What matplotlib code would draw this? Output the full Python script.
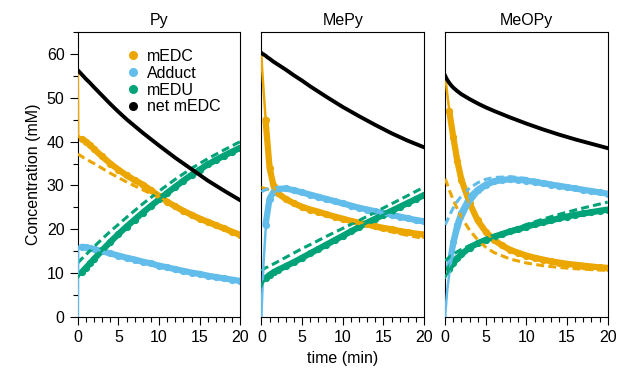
import matplotlib
matplotlib.use("Agg")
import matplotlib.pyplot as plt
from matplotlib.lines import Line2D
from matplotlib.ticker import MultipleLocator

plt.rcParams['font.family'] = ['Liberation Sans', 'DejaVu Sans']
plt.rcParams['font.size'] = 11.5

# time grids (min)
t_fit = [0, 0.05, 0.25, 0.5, 0.75, 1, 1.5, 2, 3, 4, 5, 6, 8, 10, 12, 14, 16, 18, 20]
t_data = [0.5, 1, 1.5, 2, 3, 4, 5, 6, 7, 8, 9, 10, 11, 12, 13, 14, 15, 16, 17, 18, 19, 20]

panels = ["Py", "MePy", "MeOPy"]
species = ["mEDC", "Adduct", "mEDU", "net mEDC"]

# ---- Py ----
py_medc_data = [40.6, 40.0, 39.2, 38.3, 36.6, 35.0, 33.6, 32.3, 31.2, 30.2, 28.9, 27.6, 26.3, 25.2, 24.2, 23.3, 22.4, 21.7, 20.9, 20.2, 19.4, 18.7]
py_add_data = [16.0, 15.9, 15.7, 15.5, 15.0, 14.5, 14.0, 13.5, 13.1, 12.6, 12.2, 11.7, 11.3, 10.9, 10.5, 10.1, 9.8, 9.4, 9.1, 8.8, 8.5, 8.2]
py_medu_data = [10.2, 11.2, 12.2, 13.2, 15.2, 17.1, 18.9, 20.6, 22.2, 23.8, 25.3, 26.8, 28.3, 29.7, 31.1, 32.4, 33.6, 34.8, 35.8, 36.8, 37.7, 38.6]
py_medc_fit = [56.3, 41.5, 40.8, 40.4, 40.0, 39.6, 38.8, 38.0, 36.4, 34.9, 33.5, 32.2, 30.2, 27.5, 25.1, 23.2, 21.6, 20.1, 18.7]
py_add_fit = [0, 16.0, 16.1, 16.1, 16.0, 15.9, 15.7, 15.5, 15.0, 14.5, 14.0, 13.5, 12.6, 11.7, 10.9, 10.1, 9.4, 8.8, 8.2]
py_medu_fit = [9.0, 9.1, 9.6, 10.1, 10.6, 11.1, 12.1, 13.1, 15.1, 17.0, 18.8, 20.5, 23.8, 26.8, 29.7, 32.4, 34.8, 36.8, 38.6]
py_net_fit = [56.3, 56.2, 55.8, 55.3, 54.8, 54.3, 53.4, 52.4, 50.5, 48.6, 46.8, 45.1, 42.0, 39.1, 36.3, 33.7, 31.1, 28.8, 26.6]
py_medc_alt = [37.2, 37.1, 36.9, 36.6, 36.3, 36.1, 35.5, 35.0, 33.9, 32.8, 31.8, 30.8, 29.0, 27.2, 25.3, 23.6, 22.0, 20.5, 19.0]
py_add_alt = [15.8, 15.8, 15.8, 15.7, 15.7, 15.6, 15.4, 15.2, 14.7, 14.2, 13.7, 13.2, 12.3, 11.5, 10.7, 10.0, 9.3, 8.7, 8.1]
py_medu_alt = [12.3, 12.4, 12.8, 13.3, 13.7, 14.2, 15.1, 16.0, 17.8, 19.5, 21.1, 22.7, 25.8, 28.7, 31.4, 33.9, 36.1, 38.1, 40.0]

# ---- MePy ----
mepy_medc_data = [45.0, 34.0, 29.8, 28.2, 26.9, 25.9, 25.1, 24.5, 24.0, 23.4, 22.9, 22.4, 21.9, 21.5, 21.1, 20.7, 20.3, 20.0, 19.6, 19.3, 19.0, 18.8]
mepy_add_data = [21.0, 27.0, 28.6, 29.2, 29.3, 28.9, 28.4, 27.9, 27.4, 26.9, 26.4, 25.9, 25.4, 24.9, 24.5, 24.1, 23.7, 23.3, 22.9, 22.5, 22.1, 21.8]
mepy_medu_data = [8.8, 9.6, 10.2, 10.7, 11.6, 12.5, 13.5, 14.5, 15.5, 16.5, 17.5, 18.5, 19.5, 20.5, 21.5, 22.4, 23.3, 24.2, 25.1, 26.0, 26.9, 27.8]
mepy_medc_fit = [60.0, 57.5, 52.0, 45.5, 39.5, 34.5, 29.5, 28.0, 26.8, 25.8, 25.1, 24.5, 23.4, 22.4, 21.5, 20.7, 20.0, 19.3, 18.8]
mepy_add_fit = [0, 3.0, 12.0, 19.5, 24.0, 26.5, 28.3, 28.9, 29.0, 28.6, 28.1, 27.6, 26.7, 25.7, 24.9, 24.0, 23.2, 22.4, 21.7]
mepy_medu_fit = [7.0, 7.3, 8.0, 8.6, 9.1, 9.5, 10.0, 10.5, 11.5, 12.5, 13.5, 14.5, 16.5, 18.5, 20.5, 22.4, 24.2, 26.0, 27.8]
mepy_net_fit = [60.2, 60.1, 59.9, 59.6, 59.2, 58.9, 58.2, 57.6, 56.4, 55.1, 53.9, 52.6, 50.2, 47.9, 45.8, 43.8, 41.9, 40.2, 38.7]
mepy_medc_alt = [29.5, 29.5, 29.4, 29.3, 29.1, 28.9, 28.5, 28.1, 27.1, 26.2, 25.4, 24.7, 23.5, 22.4, 21.3, 20.3, 19.4, 18.6, 17.9]
mepy_add_alt = [28.5, 28.6, 28.8, 29.0, 29.2, 29.3, 29.4, 29.4, 29.2, 28.8, 28.3, 27.8, 26.8, 25.8, 24.8, 23.9, 23.0, 22.2, 21.4]
mepy_medu_alt = [10.5, 10.6, 10.9, 11.2, 11.4, 11.7, 12.1, 12.6, 13.6, 14.6, 15.6, 16.5, 18.4, 20.2, 22.0, 23.9, 25.8, 27.7, 29.6]

# ---- MeOPy ----
meopy_medc_data = [47.0, 41.0, 35.5, 31.3, 26.0, 22.0, 19.4, 17.6, 16.3, 15.3, 14.6, 14.0, 13.5, 13.1, 12.7, 12.4, 12.1, 11.9, 11.7, 11.5, 11.3, 11.2]
meopy_add_data = [11.5, 17.0, 21.0, 23.7, 27.2, 29.0, 30.2, 30.9, 31.3, 31.4, 31.3, 31.1, 30.8, 30.5, 30.2, 29.9, 29.6, 29.3, 29.0, 28.7, 28.4, 28.1]
meopy_medu_data = [11.0, 12.3, 13.4, 14.3, 15.8, 16.8, 17.6, 18.3, 18.9, 19.5, 20.0, 20.6, 21.1, 21.6, 22.0, 22.5, 22.9, 23.3, 23.6, 23.9, 24.2, 24.5]
meopy_medc_fit = [55.0, 54.2, 51.0, 47.2, 43.5, 40.3, 34.8, 30.8, 25.5, 21.8, 19.2, 17.4, 15.1, 13.8, 12.9, 12.3, 11.8, 11.4, 11.1]
meopy_add_fit = [0, 1.5, 6.0, 9.8, 12.8, 15.3, 18.9, 22.0, 25.8, 28.1, 29.6, 30.5, 31.2, 31.1, 30.5, 29.8, 29.1, 28.5, 28.0]
meopy_medu_fit = [9.0, 9.2, 9.9, 10.7, 11.4, 12.0, 13.1, 14.6, 15.8, 16.7, 17.4, 18.1, 19.4, 20.6, 21.7, 22.6, 23.3, 23.9, 24.3]
meopy_net_fit = [55.0, 54.8, 54.1, 53.4, 52.8, 52.3, 51.5, 50.8, 49.7, 48.7, 47.8, 47.0, 45.5, 44.1, 42.8, 41.6, 40.5, 39.5, 38.5]
meopy_medc_alt = [31.5, 31.3, 30.3, 29.0, 27.8, 26.7, 24.6, 22.8, 19.8, 17.6, 15.9, 14.7, 13.2, 12.3, 11.7, 11.3, 11.0, 10.8, 10.6]
meopy_add_alt = [21.0, 21.2, 22.0, 23.0, 24.0, 24.9, 26.4, 27.6, 29.4, 30.6, 31.4, 31.8, 32.0, 31.6, 30.9, 30.2, 29.5, 28.9, 28.3]
meopy_medu_alt = [12.8, 12.9, 13.2, 13.6, 14.0, 14.3, 14.9, 15.4, 16.3, 17.1, 17.8, 18.5, 19.8, 21.1, 22.3, 23.4, 24.4, 25.3, 26.2]

colors = ['#ECA600', '#62BDEB', '#00A377', 'black']

data_sets = [
    [py_medc_data, py_add_data, py_medu_data],
    [mepy_medc_data, mepy_add_data, mepy_medu_data],
    [meopy_medc_data, meopy_add_data, meopy_medu_data],
]
fit_sets = [
    [py_medc_fit, py_add_fit, py_medu_fit, py_net_fit],
    [mepy_medc_fit, mepy_add_fit, mepy_medu_fit, mepy_net_fit],
    [meopy_medc_fit, meopy_add_fit, meopy_medu_fit, meopy_net_fit],
]
alt_sets = [
    [py_medc_alt, py_add_alt, py_medu_alt],
    [mepy_medc_alt, mepy_add_alt, mepy_medu_alt],
    [meopy_medc_alt, meopy_add_alt, meopy_medu_alt],
]

fig, axes = plt.subplots(1, 3, figsize=(6.17, 3.72), dpi=100, sharey=True)
fig.subplots_adjust(left=0.126, right=0.985, top=0.914, bottom=0.148, wspace=0.13)

for i, ax in enumerate(axes):
    # measured points (dense dots)
    for j in range(3):
        ax.plot(t_data, data_sets[i][j], '-o', color=colors[j], lw=4.5, ms=5.2,
                mew=0, zorder=2, solid_capstyle='round')
    # alternative model (dashed)
    for j in range(3):
        ax.plot(t_fit, alt_sets[i][j], '--', color=colors[j], lw=2.2,
                dashes=(2.6, 1.4), zorder=3)
    # fitted model (solid)
    for j in range(4):
        ax.plot(t_fit, fit_sets[i][j], '-', color=colors[j],
                lw=2.8 if j == 3 else 1.8, zorder=4)

    ax.set_title(panels[i], fontsize=11.5, pad=5)
    ax.set_xlim(0, 20)
    ax.set_ylim(0, 65)
    ax.xaxis.set_major_locator(MultipleLocator(5))
    ax.xaxis.set_minor_locator(MultipleLocator(1))
    ax.tick_params(axis='x', which='major', direction='out', length=6, width=0.8, labelsize=11.5)
    ax.tick_params(axis='x', which='minor', direction='out', length=3.5, width=0.8)
    for s in ax.spines.values():
        s.set_linewidth(0.8)
    if i == 0:
        ax.yaxis.set_major_locator(MultipleLocator(10))
        ax.yaxis.set_minor_locator(MultipleLocator(5))
        ax.tick_params(axis='y', which='major', direction='out', length=6, width=0.8, labelsize=11.5)
        ax.tick_params(axis='y', which='minor', direction='out', length=3.5, width=0.8)
    else:
        ax.tick_params(axis='y', which='both', left=False, labelleft=False)

axes[0].set_ylabel("Concentration (mM)", fontsize=11.5)
axes[1].set_xlabel("time (min)", fontsize=11.5)

handles = [Line2D([], [], linestyle='None', marker='o', ms=6.5, mew=0, color=c) for c in colors]
axes[0].legend(handles, species, loc='upper left', bbox_to_anchor=(0.25, 0.975),
               frameon=False, handlelength=0.6, handletextpad=0.6,
               labelspacing=0.12, borderaxespad=0.2, fontsize=11.5)

fig.savefig("out.png", dpi=100)
